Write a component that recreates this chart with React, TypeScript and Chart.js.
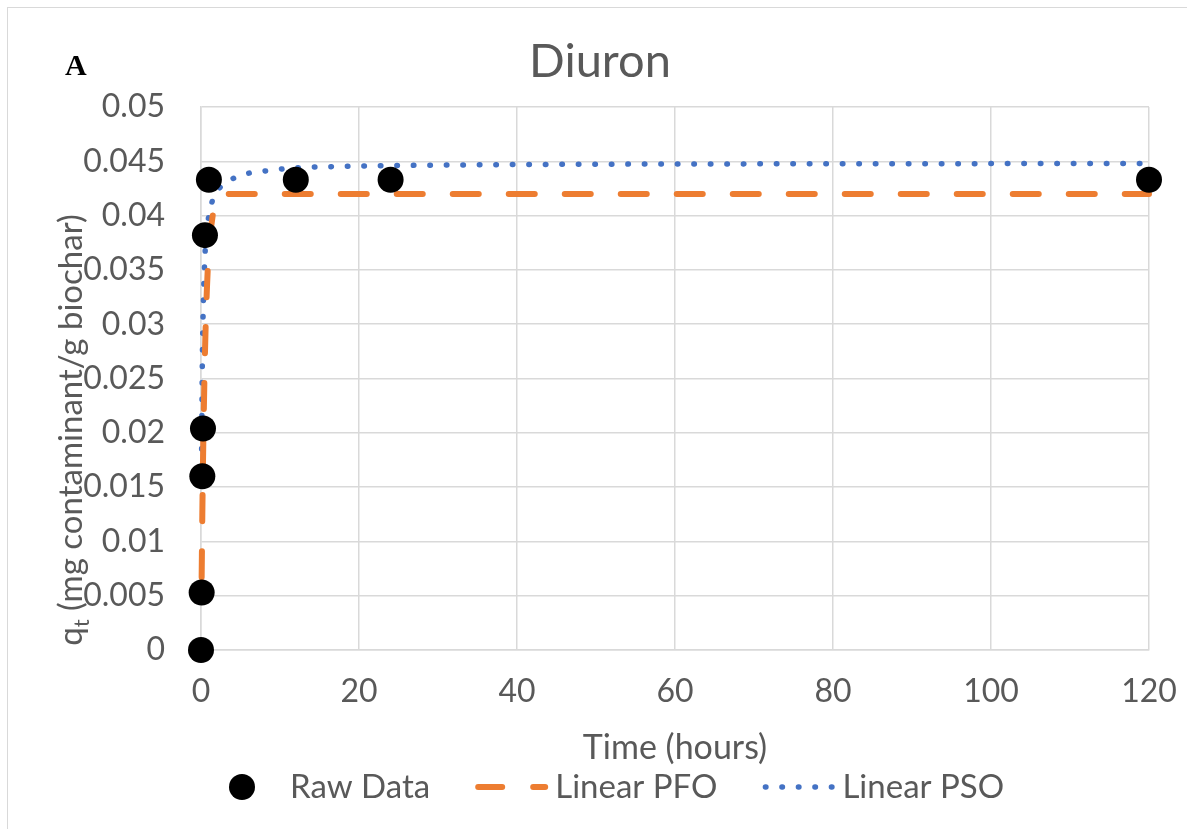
import React, { useEffect, useRef } from "react";
import { Chart, registerables } from "chart.js";

Chart.register(...registerables);

const chartTitle = "Diuron";
const panelLetter = "A";
const xAxisTitle = "Time (hours)";
const yAxisTitleMain = "q";
const yAxisTitleSub = "t";
const yAxisTitleRest = " (mg contaminant/g biochar)";

const rawTimes = [0, 0.083, 0.167, 0.25, 0.5, 1, 12, 24, 120];
const rawValues = [0, 0.0053, 0.016, 0.0204, 0.0382, 0.0433, 0.0433, 0.0433, 0.0433];

const pfoTimes = [0.083, 0.167, 0.25, 0.5, 0.75, 1, 1.5, 2, 3, 4, 12, 24, 120];
const pfoValues = [0.0067, 0.0124, 0.0172, 0.0273, 0.0333, 0.0368, 0.0401, 0.0414, 0.0419, 0.042, 0.042, 0.042, 0.042];

const psoTimes = [0.083, 0.167, 0.25, 0.5, 0.75, 1, 1.5, 2, 3, 4, 6, 8, 12, 16, 24, 40, 60, 120];
const psoValues = [0.0185, 0.0264, 0.0304, 0.0363, 0.0388, 0.04, 0.0415, 0.0422, 0.043, 0.0434, 0.0439, 0.0441, 0.0444, 0.0445, 0.0446, 0.0447, 0.04475, 0.0448];

const xTicks = [0, 20, 40, 60, 80, 100, 120];
const xTickLabels = ["0", "20", "40", "60", "80", "100", "120"];
const yTicks = [0, 0.005, 0.01, 0.015, 0.02, 0.025, 0.03, 0.035, 0.04, 0.045, 0.05];
const yTickLabels = ["0", "0.005", "0.01", "0.015", "0.02", "0.025", "0.03", "0.035", "0.04", "0.045", "0.05"];

const legendLabels = ["Raw Data", "Linear PFO", "Linear PSO"];

const TEXT = "#595959";
const GRID = "#d9d9d9";
const ORANGE = "#ED7D31";
const BLUE = "#4472C4";
const FONT = "Lato, 'Open Sans', sans-serif";

const decorPlugin = {
  id: "decor",
  afterDraw(chart: any) {
    const ctx = chart.ctx as CanvasRenderingContext2D;
    ctx.save();
    ctx.fillStyle = TEXT;
    ctx.font = `47px ${FONT}`;
    ctx.textAlign = "center";
    ctx.textBaseline = "alphabetic";
    ctx.fillText(chartTitle, 592, 69);
    ctx.fillStyle = "#000";
    ctx.font = `bold 30px 'Liberation Serif', 'Times New Roman', serif`;
    ctx.textAlign = "left";
    ctx.fillText(panelLetter, 57, 67);

    ctx.fillStyle = TEXT;
    const fs = 33;
    ctx.save();
    ctx.translate(62, 422);
    ctx.rotate(-Math.PI / 2);
    ctx.font = `${fs}px ${FONT}`;
    const wq = ctx.measureText(yAxisTitleMain).width;
    const wr = ctx.measureText(yAxisTitleRest).width;
    ctx.font = `${Math.round(fs * 0.66)}px ${FONT}`;
    const wt = ctx.measureText(yAxisTitleSub).width;
    const total = wq + wt + wr;
    const x0 = -total / 2;
    ctx.textAlign = "left";
    ctx.textBaseline = "alphabetic";
    ctx.font = `${fs}px ${FONT}`;
    ctx.fillText(yAxisTitleMain, x0, fs * 0.35);
    ctx.font = `${Math.round(fs * 0.66)}px ${FONT}`;
    ctx.fillText(yAxisTitleSub, x0 + wq, fs * 0.35 + fs * 0.22);
    ctx.font = `${fs}px ${FONT}`;
    ctx.fillText(yAxisTitleRest, x0 + wq + wt, fs * 0.35);
    ctx.restore();

    const ly = 779;
    ctx.font = `33px ${FONT}`;
    ctx.textBaseline = "middle";
    ctx.textAlign = "left";
    let x = 221;
    ctx.fillStyle = "#000";
    ctx.beginPath();
    ctx.arc(x + 13, ly, 13, 0, Math.PI * 2);
    ctx.fill();
    x += 61;
    ctx.fillStyle = TEXT;
    ctx.fillText(legendLabels[0], x, ly);
    x += ctx.measureText(legendLabels[0]).width + 45;
    ctx.strokeStyle = ORANGE;
    ctx.lineWidth = 6;
    ctx.lineCap = "round";
    ctx.setLineDash([24, 31]);
    ctx.beginPath();
    ctx.moveTo(x + 3, ly);
    ctx.lineTo(x + 70, ly);
    ctx.stroke();
    x += 80;
    ctx.fillText(legendLabels[1], x, ly);
    x += ctx.measureText(legendLabels[1]).width + 45;
    ctx.strokeStyle = BLUE;
    ctx.lineWidth = 5.5;
    ctx.setLineDash([0.5, 16]);
    ctx.beginPath();
    ctx.moveTo(x + 3, ly);
    ctx.lineTo(x + 70, ly);
    ctx.stroke();
    ctx.setLineDash([]);
    x += 80;
    ctx.fillText(legendLabels[2], x, ly);
    ctx.restore();
  },
};

export default function App() {
  const ref = useRef<HTMLCanvasElement | null>(null);
  useEffect(() => {
    if (!ref.current) return;
    const chart = new Chart(ref.current, {
      type: "scatter",
      data: {
        datasets: [
          {
            label: legendLabels[0],
            data: rawTimes.map((t, i) => ({ x: t, y: rawValues[i] })),
            showLine: false,
            pointRadius: 13,
            pointHoverRadius: 13,
            pointBackgroundColor: "#000",
            pointBorderWidth: 0,
            backgroundColor: "#000",
            borderColor: "#000",
            clip: false as any,
          },
          {
            label: legendLabels[1],
            data: pfoTimes.map((t, i) => ({ x: t, y: pfoValues[i] })),
            showLine: true,
            pointRadius: 0,
            borderColor: ORANGE,
            borderWidth: 6,
            borderDash: [26, 30],
            borderCapStyle: "round",
            cubicInterpolationMode: "monotone",
            clip: false as any,
          },
          {
            label: legendLabels[2],
            data: psoTimes.map((t, i) => ({ x: t, y: psoValues[i] })),
            showLine: true,
            pointRadius: 0,
            borderColor: BLUE,
            borderWidth: 5.5,
            borderDash: [0.5, 16],
            borderCapStyle: "round",
            cubicInterpolationMode: "monotone",
            clip: false as any,
          },
        ],
      },
      options: {
        animation: false,
        responsive: false,
        layout: { padding: { left: 0, right: 38, top: 99, bottom: 57 } },
        plugins: {
          legend: { display: false },
          title: { display: false },
          tooltip: { enabled: false },
        },
        scales: {
          x: {
            type: "linear",
            min: 0,
            max: 120,
            afterBuildTicks: (s: any) => {
              s.ticks = xTicks.map((v) => ({ value: v }));
            },
            afterFit: (s: any) => {
              s.height = 122;
              s.paddingLeft = 0;
              s.paddingRight = 0;
            },
            ticks: {
              callback: (_v: any, i: number) => xTickLabels[i],
              color: TEXT,
              font: { family: FONT, size: 32 },
              padding: 22,
              maxRotation: 0,
            },
            grid: { color: GRID, lineWidth: 1.5, drawTicks: false },
            border: { color: GRID, width: 1.5 },
            title: {
              display: true,
              text: xAxisTitle,
              color: TEXT,
              font: { family: FONT, size: 34 },
              padding: { top: 4, bottom: 4 },
            },
          },
          y: {
            type: "linear",
            min: 0,
            max: 0.05,
            afterBuildTicks: (s: any) => {
              s.ticks = yTicks.map((v) => ({ value: v }));
            },
            afterFit: (s: any) => {
              s.width = 193;
              s.paddingTop = 0;
              s.paddingBottom = 0;
            },
            ticks: {
              callback: (_v: any, i: number) => yTickLabels[i],
              color: TEXT,
              font: { family: FONT, size: 32 },
              padding: 36,
            },
            grid: { color: GRID, lineWidth: 1.5, drawTicks: false },
            border: { color: GRID, width: 1.5 },
          },
        },
      },
      plugins: [decorPlugin],
    });
    return () => chart.destroy();
  }, []);

  return (
    <div
      style={{
        position: "absolute",
        left: 7,
        top: 7,
        width: 1180,
        height: 822,
        borderLeft: `1px solid ${GRID}`,
        borderTop: `1px solid ${GRID}`,
        boxSizing: "border-box",
        background: "#fff",
      }}
    >
      <canvas ref={ref} width={1179} height={821} style={{ display: "block", width: 1179, height: 821 }} />
    </div>
  );
}
